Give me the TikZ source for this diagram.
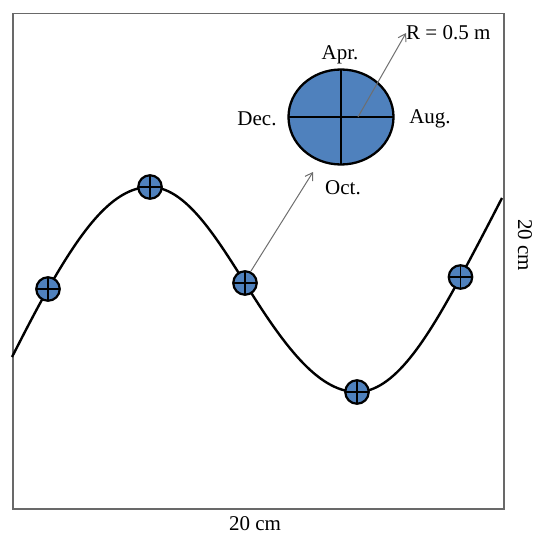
\documentclass[tikz,border=0pt]{standalone}
\usepackage{fontspec}
\setmainfont{Liberation Serif}
\usetikzlibrary{shapes.geometric,arrows.meta}
\definecolor{fillblue}{RGB}{79,129,189}
\definecolor{boxgray}{RGB}{105,105,105}
\definecolor{arrgray}{RGB}{110,110,110}
\tikzset{
  crossed/.style={path picture={\draw[line width=1.8pt]
      (path picture bounding box.north)--(path picture bounding box.south)
      (path picture bounding box.west)--(path picture bounding box.east);}},
  mini/.style={circle, draw, fill=fillblue, line width=2.2pt, inner sep=0pt,
      minimum size=23.5pt, crossed},
  big/.style={ellipse, draw, fill=fillblue, line width=2.3pt, inner sep=0pt,
      minimum width=105pt, minimum height=95pt, crossed},
  lbl/.style={font=\fontsize{21}{23}\selectfont, inner sep=0pt},
  ptr/.style={arrgray, line width=1pt, -{Straight Barb[length=7pt,width=9pt]}}
}
\begin{document}
\begin{tikzpicture}[x=1pt,y=-1pt]
\useasboundingbox (0,0) rectangle (534,535);
% frame
\node[draw=boxgray, line width=1.5pt, minimum width=491pt, minimum height=495pt, inner sep=0pt, anchor=north west] (frame) at (12,13) {};
% curve points
\coordinate (s) at (12,357);
\coordinate (p1) at (48,289);
\coordinate (p2) at (150,187);
\coordinate (p3) at (245,283);
\coordinate (p4) at (357,392);
\coordinate (p5) at (460.5,277);
\coordinate (e) at (502,198);
\draw[line width=2.4pt] (s) .. controls (24,333.6) and (36,310) .. (p1)
  .. controls (82,229.5) and (113,187) .. (p2)
  .. controls (184,187) and (213,231.8) .. (p3)
  .. controls (282,342.2) and (317,392) .. (p4)
  .. controls (394,392) and (426.5,339.9) .. (p5)
  .. controls (474,252) and (488,225.3) .. (e);
% small circles
\node[mini] (c1) at (p1) {};
\node[mini] (c2) at (p2) {};
\node[mini] (c3) at (p3) {};
\node[mini] (c4) at (p4) {};
\node[mini] (c5) at (p5) {};
% big circle
\node[big] (bc) at (341,117) {};
% labels
\node[lbl] (apr) at (340,55) {Apr.};
\node[lbl] (dec) at (257,119) {Dec.};
\node[lbl] (aug) at (430,119) {Aug.};
\node[lbl] (oct) at (343,188) {Oct.};
\node[lbl, anchor=west] (rl) at (406,33) {R = 0.5 m};
\node[lbl] (bot) at (255,524) {20 cm};
\node[lbl, rotate=-90] (side) at (525,245) {20 cm};
% arrows
\coordinate (rs) at (358,117);
\coordinate (at) at (313,172);
\coordinate (as) at (251,271);
\draw[ptr] (rs) -- (rl.west);
\draw[ptr] (as) -- (at);
\end{tikzpicture}
\end{document}
